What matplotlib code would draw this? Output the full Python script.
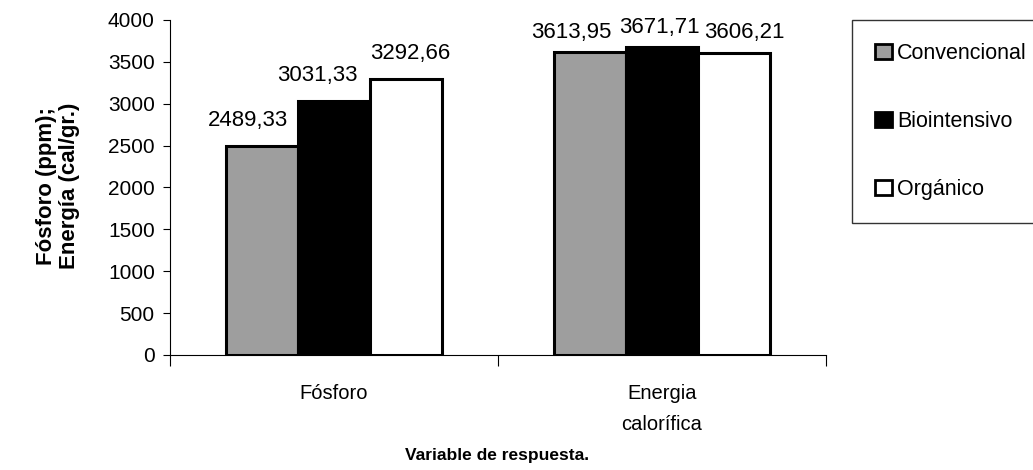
import numpy as np
import matplotlib
matplotlib.use("Agg")
import matplotlib.pyplot as plt
from matplotlib.patches import Patch

plt.rcParams['font.family'] = ['Liberation Sans', 'DejaVu Sans']

categories = ['Fósforo', 'Energia\ncalorífica']
series = ['Convencional', 'Biointensivo', 'Orgánico']
convencional = [2489.33, 3613.95]
biointensivo = [3031.33, 3671.71]
organico = [3292.66, 3606.21]
labels_conv = ['2489,33', '3613,95']
labels_bio = ['3031,33', '3671,71']
labels_org = ['3292,66', '3606,21']

colors = ['#9e9e9e', '#000000', '#ffffff']

fig = plt.figure(figsize=(10.33, 4.70), dpi=100)
ax = fig.add_axes([0.1646, 0.2447, 0.635, 0.7128])

x = np.arange(len(categories))
w = 0.22
data = [convencional, biointensivo, organico]
labs = [labels_conv, labels_bio, labels_org]
# horizontal / vertical nudges (points) of the value labels, like the original layout
nudge = [[-10, -13], [-12, -2], [3, 7]]
lift = [11, 7]
for i, (vals, lab) in enumerate(zip(data, labs)):
    pos = x + (i - 1) * w
    ax.bar(pos, vals, width=w, color=colors[i], edgecolor='black', linewidth=2.2, zorder=2)
    for j, (p, v, t) in enumerate(zip(pos, vals, lab)):
        ax.annotate(t, (p, v), xytext=(nudge[i][j], lift[j]), textcoords='offset points',
                    ha='center', va='bottom', fontsize=16, annotation_clip=False)

ax.set_xlim(-0.5, 1.5)
ax.set_ylim(0, 4000)
ax.set_yticks(np.arange(0, 4001, 500))
ax.tick_params(axis='y', labelsize=15, length=5, direction='out', pad=6)
ax.set_xticks([-0.5, 0.5, 1.5])
ax.set_xticklabels([])
ax.tick_params(axis='x', length=8, direction='out')
for xi, c in zip(x, categories):
    ax.annotate(c, (xi, 0), xytext=(0, -21), textcoords='offset points',
                ha='center', va='top', fontsize=14.5, linespacing=1.8)

ax.spines['top'].set_visible(False)
ax.spines['right'].set_visible(False)
fig.text(0.056, 0.604, 'Fósforo (ppm);\nEnergía (cal/gr.)', rotation=90,
         ha='center', va='center', fontsize=16, fontweight='bold', linespacing=1.15)
fig.text(0.4816, 0.03, 'Variable de respuesta.', ha='center', va='center',
         fontsize=12.5, fontweight='bold')

handles = [Patch(facecolor=c, edgecolor='black', linewidth=2) for c in colors]
leg = fig.legend(handles, series, loc='upper left', bbox_to_anchor=(0.8248, 0.9574),
                 frameon=True, fancybox=False, edgecolor='black', fontsize=15.5,
                 handlelength=0.8, handleheight=0.7, handletextpad=0.25,
                 labelspacing=2.2, borderpad=1.05, borderaxespad=0)
leg.get_frame().set_linewidth(1)

fig.savefig('out.png', dpi=100)
